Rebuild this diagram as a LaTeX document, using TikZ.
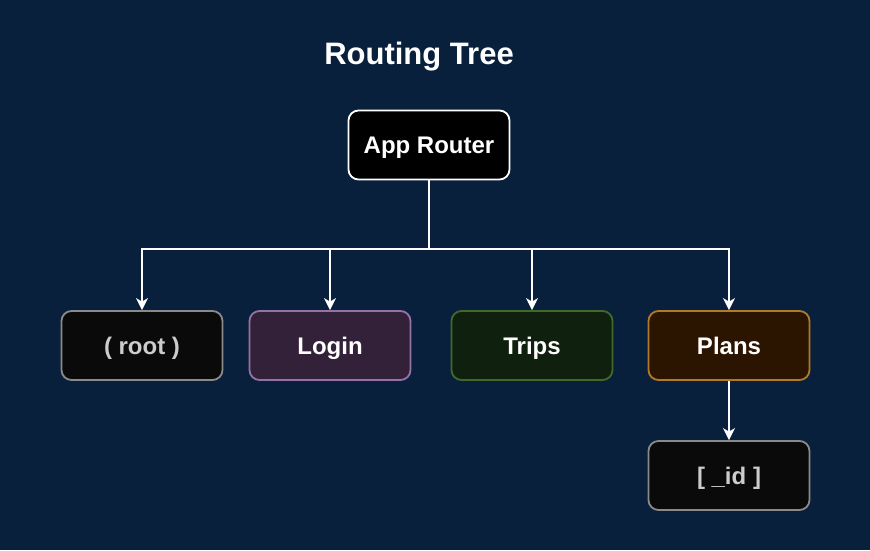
\documentclass[tikz,border=0pt]{standalone}
\usepackage{fontspec}
\setmainfont{Liberation Sans}
\usetikzlibrary{arrows.meta, positioning, calc}

\definecolor{bgnavy}{HTML}{08203B}
\definecolor{rootfill}{HTML}{0A0A0A}
\definecolor{rootline}{HTML}{8A8A8A}
\definecolor{loginfill}{HTML}{33213A}
\definecolor{loginline}{HTML}{9373A6}
\definecolor{tripsfill}{HTML}{10200E}
\definecolor{tripsline}{HTML}{3F6A2A}
\definecolor{plansfill}{HTML}{2B1400}
\definecolor{plansline}{HTML}{B07A2A}
\definecolor{greytext}{HTML}{CCCCCC}

\tikzset{
    routebox/.style={draw, rectangle, rounded corners=10pt, line width=1.8pt,
        minimum width=161pt, minimum height=69pt, text=white,
        text height=17.2pt, text depth=0pt,
        font=\fontsize{24}{28}\selectfont\bfseries},
    link/.style={draw=white, line width=1.8pt,
        -{Stealth[width=12pt, length=12pt, inset=3.5pt]}}
}

\begin{document}
\begin{tikzpicture}[x=1pt, y=-1pt]
        % Background
        \fill[bgnavy] (0,0) rectangle (870,550);
        \useasboundingbox (0,0) rectangle (870,550);

        % Title
        \node[text=white, text height=22pt, text depth=0pt, font=\fontsize{31}{35}\selectfont\bfseries] (title) at (419,53) {Routing Tree};

        % Top of the tree
        \node[routebox, fill=black, draw=white] (app) at (429,145) {App Router};

        % Routes
        \node[routebox, fill=rootfill, draw=rootline, text=greytext] (root) at (142,345.5) {( root )};
        \node[routebox, fill=loginfill, draw=loginline] (login) at (330,345.5) {Login};
        \node[routebox, fill=tripsfill, draw=tripsline] (trips) at (532,345.5) {Trips};
        \node[routebox, fill=plansfill, draw=plansline] (plans) at (729,345.5) {Plans};

        % Dynamic segment
        \node[routebox, fill=rootfill, draw=rootline, text=greytext] (id) at (729,475.5) {[ \_id ]};

        % Branches from the router
        \coordinate (bus) at (429,249);
        \draw[white, line width=1.8pt] (app.south) -- (bus);
        \draw[link] (bus) -| (root.north);
        \draw[link] (bus) -| (login.north);
        \draw[link] (bus) -| (trips.north);
        \draw[link] (bus) -| (plans.north);
        \draw[link] (plans) -- (id);
\end{tikzpicture}
\end{document}
